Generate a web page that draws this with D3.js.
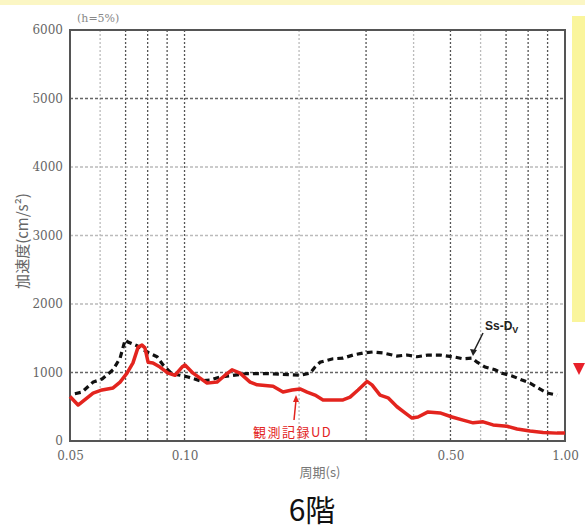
<!DOCTYPE html>
<html>
<head>
<meta charset="utf-8">
<script src="https://cdn.jsdelivr.net/npm/d3@7"></script>
<style>
	body { margin: 0; background: #fff; }
	svg { display: block; }
	.tick-label { font-family: "DejaVu Serif", serif; font-size: 12px; fill: #666; }
</style>
</head>
<body>
<div id="chart"></div>
<script>
// observed record (UD) - period (s) / acceleration (cm/s2)
const observedPeriods = [0.050, 0.0525, 0.0575, 0.0607, 0.0649, 0.0677, 0.0706, 0.0732, 0.0755, 0.0773,
	0.0787, 0.0802, 0.0826, 0.0862, 0.0905, 0.0944, 0.0985, 0.1003, 0.1053, 0.1146, 0.1217, 0.1278,
	0.1333, 0.1399, 0.1487, 0.1552, 0.1709, 0.1815, 0.1917, 0.2012, 0.2100, 0.2203, 0.2312, 0.2457,
	0.2610, 0.2723, 0.2858, 0.3017, 0.3110, 0.3265, 0.3427, 0.3618, 0.3798, 0.3962, 0.4109, 0.4365,
	0.4695, 0.5048, 0.5396, 0.5734, 0.6091, 0.6470, 0.7042, 0.7481, 0.8094, 0.8758, 0.9530, 1.000];
const observedValues = [650, 525, 700, 745, 775, 860, 990, 1140, 1370, 1400,
	1360, 1150, 1140, 1080, 990, 960, 1080, 1110, 990, 845, 860, 960,
	1040, 990, 860, 820, 800, 715, 745, 760, 715, 670, 600, 600,
	600, 640, 745, 870, 820, 670, 630, 500, 410, 335, 350, 425,
	410, 350, 305, 265, 280, 235, 215, 175, 145, 125, 115, 115];

// design spectrum Ss-Dv
const designPeriods = [0.0515, 0.0538, 0.0575, 0.0607, 0.0649, 0.0677, 0.0698, 0.0710, 0.0750, 0.0797,
	0.0847, 0.0878, 0.0927, 0.0973, 0.1021, 0.1098, 0.1167, 0.1240, 0.1460, 0.1648, 0.2012, 0.2138,
	0.2203, 0.2271, 0.2457, 0.2610, 0.2773, 0.2946, 0.3129, 0.3325, 0.3618, 0.3844, 0.4084, 0.4365,
	0.4695, 0.5079, 0.5396, 0.5699, 0.5874, 0.6165, 0.6548, 0.6832, 0.7258, 0.7711, 0.8094, 0.8497,
	0.8973, 0.9530];
const designValues = [690, 715, 860, 905, 1040, 1210, 1475, 1445, 1390, 1300,
	1230, 1110, 980, 960, 935, 880, 890, 935, 985, 985, 960, 990,
	1080, 1150, 1200, 1210, 1255, 1285, 1300, 1285, 1240, 1255, 1230, 1255,
	1255, 1230, 1200, 1210, 1150, 1080, 1040, 990, 950, 890, 845, 775,
	700, 670];

const xTickValues = [0.05, 0.10, 0.50, 1.00];
const xTickLabels = ['0.05', '0.10', '0.50', '1.00'];
const xGridStrong = [0.07, 0.08, 0.09, 0.10, 0.3, 0.5, 0.7, 0.8, 0.9];
const xGridLight = [0.06, 0.2, 0.4, 0.6];
const yTickValues = [0, 1000, 2000, 3000, 4000, 5000, 6000];
const yGridStrong = [1000, 5000];
const yGridLight = [2000, 3000, 4000];

const width = 585, height = 530;
const plot = { left: 70, right: 565, top: 30, bottom: 441 };

const svg = d3.select('#chart').append('svg')
	.attr('width', width)
	.attr('height', height);

// yellow strips of the page behind
svg.append('rect').attr('x', 0).attr('y', 0).attr('width', width).attr('height', 5).attr('fill', '#fbf6c4');
svg.append('rect').attr('x', 572).attr('y', 16).attr('width', 13).attr('height', 306).attr('fill', '#faf59c');
svg.append('path').attr('d', 'M573,363 L585,363 L579,375 Z').attr('fill', '#e8202a');

const x = d3.scaleLog().domain([0.05, 1]).range([plot.left, plot.right]);
const y = d3.scaleLinear().domain([0, 6000]).range([plot.bottom, plot.top]);

// grid
const grid = svg.append('g');
function vGrid(values, color) {
	grid.selectAll(null).data(values).enter().append('line')
		.attr('x1', d => x(d)).attr('x2', d => x(d))
		.attr('y1', plot.top).attr('y2', plot.bottom)
		.attr('stroke', color).attr('stroke-width', 1.3).attr('stroke-dasharray', '2,2');
}
function hGrid(values, color) {
	grid.selectAll(null).data(values).enter().append('line')
		.attr('x1', plot.left).attr('x2', plot.right)
		.attr('y1', d => y(d)).attr('y2', d => y(d))
		.attr('stroke', color).attr('stroke-width', 1.3).attr('stroke-dasharray', '3,2');
}
vGrid(xGridLight, '#bbb');
vGrid(xGridStrong, '#555');
hGrid(yGridLight, '#bbb');
hGrid(yGridStrong, '#666');

// axes
const xAxis = d3.axisBottom(x).tickValues(xTickValues).tickFormat((d, i) => xTickLabels[i]).tickSize(0).tickPadding(10);
const xg = svg.append('g').attr('transform', `translate(0,${plot.bottom})`).call(xAxis);
xg.select('.domain').remove();
xg.selectAll('text').attr('class', 'tick-label');

const yAxis = d3.axisLeft(y).tickValues(yTickValues).tickFormat(d3.format('d')).tickSize(0).tickPadding(7);
const yg = svg.append('g').attr('transform', `translate(${plot.left},0)`).call(yAxis);
yg.select('.domain').remove();
yg.selectAll('text').attr('class', 'tick-label');

svg.append('rect')
	.attr('x', plot.left).attr('y', plot.top)
	.attr('width', plot.right - plot.left).attr('height', plot.bottom - plot.top)
	.attr('fill', 'none').attr('stroke', '#555').attr('stroke-width', 2);

// curves
const line = d3.line().x(d => x(d[0])).y(d => y(d[1]));
svg.append('path')
	.datum(designPeriods.map((p, i) => [p, designValues[i]]))
	.attr('d', line)
	.attr('fill', 'none').attr('stroke', '#111').attr('stroke-width', 3.2).attr('stroke-dasharray', '6,4');
svg.append('path')
	.datum(observedPeriods.map((p, i) => [p, observedValues[i]]))
	.attr('d', line)
	.attr('fill', 'none').attr('stroke', '#e3241e').attr('stroke-width', 3.5).attr('stroke-linejoin', 'round');

// annotations
svg.append('line').attr('x1', 483).attr('y1', 333).attr('x2', 473).attr('y2', 353)
	.attr('stroke', '#222').attr('stroke-width', 1.5);
svg.append('path').attr('d', 'M470,349 L473,356 L477,350 Z').attr('fill', '#222');
const ss = svg.append('text').attr('x', 485).attr('y', 330)
	.attr('font-family', 'Liberation Sans, Arial, sans-serif').attr('font-size', 12).attr('font-weight', 'bold').attr('fill', '#222');
ss.append('tspan').text('Ss-D');
ss.append('tspan').attr('font-size', 9).attr('dy', 3).text('V');

svg.append('line').attr('x1', 294).attr('y1', 420).attr('x2', 296).attr('y2', 400)
	.attr('stroke', '#e3241e').attr('stroke-width', 1.5);
svg.append('path').attr('d', 'M293,402 L296,395 L299,402 Z').attr('fill', '#e3241e');
svg.append('text').attr('x', 253).attr('y', 437)
	.attr('font-family', 'Noto Sans CJK JP, sans-serif').attr('font-size', 13).attr('letter-spacing', 1.5)
	.attr('fill', '#e3241e').text('観測記録UD');

// titles
svg.append('text').attr('x', 77).attr('y', 22)
	.attr('font-family', 'DejaVu Serif, serif').attr('font-size', 11).attr('fill', '#888').text('(h=5%)');
svg.append('text').attr('transform', 'translate(28,241) rotate(-90)')
	.attr('text-anchor', 'middle')
	.attr('font-family', 'Noto Sans CJK JP, serif').attr('font-size', 15).attr('fill', '#666')
	.text('加速度(cm/s²)');
svg.append('text').attr('x', 320).attr('y', 477).attr('text-anchor', 'middle')
	.attr('font-family', 'Noto Sans CJK JP, serif').attr('font-size', 13).attr('fill', '#777').text('周期(s)');
svg.append('text').attr('x', 312).attr('y', 521).attr('text-anchor', 'middle')
	.attr('font-family', 'Noto Sans CJK JP, sans-serif').attr('font-size', 30).attr('fill', '#111').text('6階');
</script>
</body>
</html>
